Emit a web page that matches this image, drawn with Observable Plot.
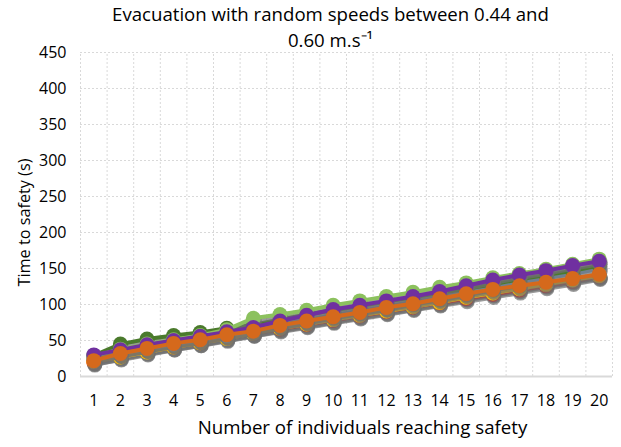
<!DOCTYPE html>
<html><head><meta charset="utf-8">
<script src="https://cdn.jsdelivr.net/npm/d3@7"></script>
<script src="https://cdn.jsdelivr.net/npm/@observablehq/plot@0.6"></script>
<style>body{margin:0;background:#fff;} svg{display:block;}</style>
</head><body><div id="chart"></div>
<script>
const people = [1,2,3,4,5,6,7,8,9,10,11,12,13,14,15,16,17,18,19,20];
const blue       = [22,29,36,42,48,55,61,68,74,80,86,92,98,104,111,117,123,129,135,141];
const red        = [20,28,35,41,47,54,60,66,72,78,84,90,96,102,108,114,120,126,132,139];
const yellow     = [21,27,34,41,47,53,60,67,73,79,85,91,97,103,110,116,122,128,134,140];
const lightBlue  = [25,32,39,45,51,57,64,71,78,85,91,97,104,110,117,124,130,137,143,150];
const darkGreen  = [29,45,52,57,61,67,72,79,86,92,98,104,110,116,122,128,135,141,147,154];
const lightGreen = [28,38,45,51,57,65,81,86,92,99,105,111,117,124,130,137,143,149,156,163];
const purple     = [30,37,44,50,56,62,68,77,85,93,99,105,111,118,126,134,141,147,154,160];
const orange     = [22,32,39,46,51,58,63,71,77,83,89,96,101,108,115,121,126,131,136,142];
const yTicks = [0,50,100,150,200,250,300,350,400,450];
const title1 = "Evacuation with random speeds between 0.44 and";
const title2 = "0.60 m.s\u207B\u00B9";
const xTitle = "Number of individuals reaching safety";
const yTitle = "Time to safety (s)";

const series = [
  {name:"blue", values: blue, color:"#4472C4"},
  {name:"red", values: red, color:"#FF0000"},
  {name:"yellow", values: yellow, color:"#FFC000"},
  {name:"lightBlue", values: lightBlue, color:"#6FA8DC"},
  {name:"darkGreen", values: darkGreen, color:"#4A7A2C"},
  {name:"lightGreen", values: lightGreen, color:"#8CC15E"},
  {name:"purple", values: purple, color:"#7030A0"},
  {name:"orange", values: orange, color:"#D5691C"}
];

const fontFamily = "Open Sans";
const font = "Open Sans, Liberation Sans, sans-serif";
const ctx = document.createElement("canvas").getContext("2d");
function fit(text, target, fallback) {
  ctx.font = `100px "${fontFamily}"`;
  const w = ctx.measureText(text).width;
  if (!w) return fallback;
  return Math.max(10, Math.min(24, 100 * target / w));
}
const titleSize = fit(title1, 437, 18.5);
const xTitleSize = fit(xTitle, 330, 18);
const yTitleSize = fit(yTitle, 128, 14.5);

const bounds = d3.range(0.5, 21, 1);
const marks = [];
marks.push(Plot.ruleY(yTicks.filter(d => d > 0), {stroke:"#d9d9d9", strokeDasharray:"2,2", strokeWidth:1}));
marks.push(Plot.ruleX(bounds, {y1:0, y2:450, stroke:"#d9d9d9", strokeDasharray:"2,2", strokeWidth:1}));
marks.push(Plot.ruleY([0], {stroke:"#d9d9d9", strokeWidth:2}));
for (const s of series) {
  const data = people.map((p,i) => ({x:p, y:s.values[i]}));
  marks.push(Plot.line(data, {x:"x", y:"y", stroke:"#6f6f6f", strokeOpacity:0.7, strokeWidth:4, dx:1, dy:3}));
  marks.push(Plot.dot(data, {x:"x", y:"y", r:7.5, fill:"#6f6f6f", fillOpacity:0.7, dx:1, dy:3}));
  marks.push(Plot.line(data, {x:"x", y:"y", stroke:s.color, strokeWidth:4}));
  marks.push(Plot.dot(data, {x:"x", y:"y", r:7.5, fill:s.color}));
}
marks.push(Plot.axisY({ticks:yTicks, tickSize:0, tickPadding:14, fontSize:16, fill:"#000", label:null}));
marks.push(Plot.axisX({ticks:people, tickSize:0, tickPadding:18, fontSize:16, fill:"#000", label:null}));
marks.push(Plot.text([title1], {frameAnchor:"top", lineAnchor:"middle", dx:-16, dy:-37, fontSize:titleSize, fill:"#000"}));
marks.push(Plot.text([title2], {frameAnchor:"top", lineAnchor:"middle", dx:-16, dy:-11, fontSize:titleSize, fill:"#000"}));
marks.push(Plot.text([xTitle], {frameAnchor:"bottom", lineAnchor:"middle", dx:16, dy:52, fontSize:xTitleSize, fill:"#000"}));
marks.push(Plot.text([yTitle], {frameAnchor:"left", textAnchor:"middle", lineAnchor:"middle", dx:-55.5, dy:8, rotate:-90, fontSize:yTitleSize, fill:"#000"}));

const chart = Plot.plot({
  width:621, height:447,
  marginLeft:80, marginRight:9, marginTop:52, marginBottom:71,
  style:{fontFamily:font, background:"#fff", overflow:"visible"},
  x:{type:"linear", domain:[0.5,20.5], axis:null},
  y:{domain:[0,450], axis:null},
  marks
});
document.getElementById("chart").appendChild(chart);
</script></body></html>
